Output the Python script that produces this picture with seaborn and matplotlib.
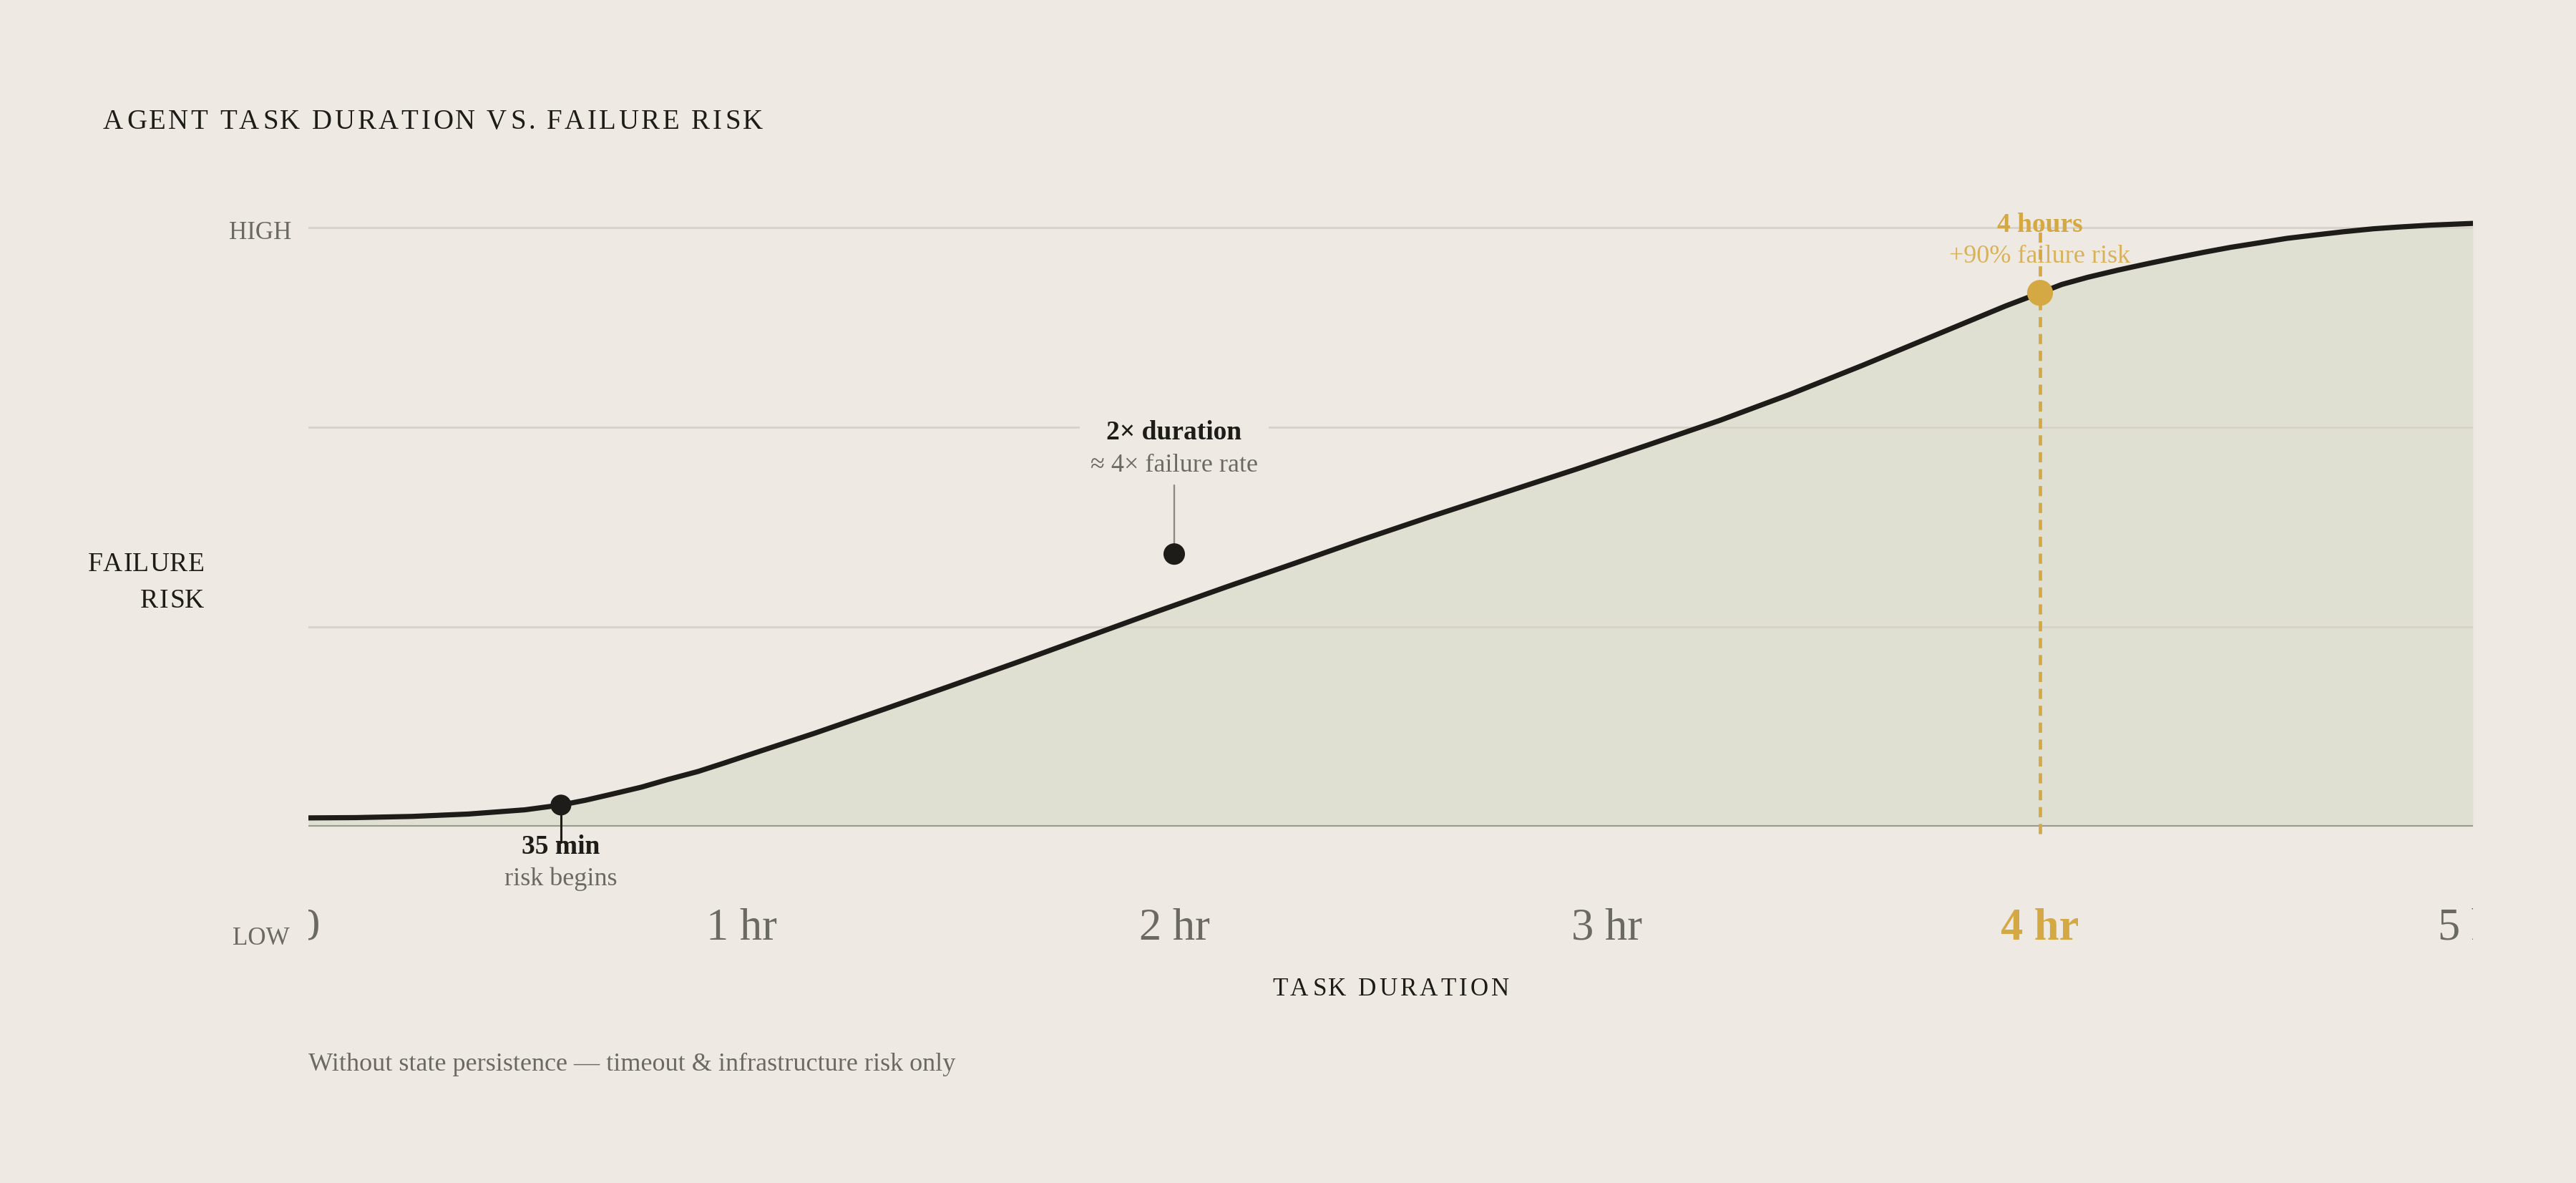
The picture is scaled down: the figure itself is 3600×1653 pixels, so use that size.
import matplotlib
matplotlib.use("Agg")
import matplotlib.pyplot as plt
import seaborn as sns
from matplotlib import font_manager
from matplotlib.ft2font import FT2Font
from matplotlib.patches import Rectangle

# curve (hours, failure risk on a 0-100 scale)
hours = [0.0, 0.11, 0.24, 0.37, 0.50, 0.583, 0.64, 0.70, 0.77, 0.83, 0.90, 0.96,
         1.01, 1.17, 1.33, 1.48, 1.64, 1.80, 1.96, 2.12, 2.28, 2.43, 2.59, 2.76,
         2.93, 3.09, 3.26, 3.42, 3.59, 3.75, 3.92, 4.0, 4.05, 4.11, 4.18, 4.25,
         4.31, 4.38, 4.44, 4.51, 4.57, 4.64, 4.70, 4.77, 4.83, 4.90, 5.0]
risk = [1.45, 1.5, 1.7, 2.1, 2.8, 3.6, 4.4, 5.4, 6.6, 7.85, 9.2, 10.6,
        11.8, 15.6, 19.6, 23.4, 27.5, 31.7, 35.9, 40.0, 44.0, 47.8, 51.7, 55.7,
        59.7, 63.6, 67.8, 72.1, 77.0, 81.8, 86.9, 89.1, 90.5, 91.7, 92.9, 94.0,
        94.9, 95.9, 96.7, 97.5, 98.2, 98.8, 99.3, 99.8, 100.1, 100.4, 100.7]

tick_hours = [0, 1, 2, 3, 4, 5]
tick_labels = ["0", "1 hr", "2 hr", "3 hr", "4 hr", "5 hr"]
grid_levels = [100 / 3, 200 / 3, 100]

onset_x, onset_y = 35 / 60, 3.6
double_x, double_y = 2.0, 45.5
peak_x, peak_y = 4.0, 89.1

BG = "#EEEAE3"
FILL = "#E0E0D2"
INK = "#1E1C18"
GREY = "#6B6963"
GOLD = "#D4A843"
GRID = "#D6D2CA"
BASE = "#9B9A92"
SERIF = ["Liberation Serif", "DejaVu Serif"]

W, H, DPI = 3600, 1653, 200

sns.set_theme(style="white", rc={"figure.facecolor": BG, "axes.facecolor": BG,
                                 "savefig.facecolor": BG})
plt.rcParams["font.family"] = SERIF

fig = plt.figure(figsize=(W / DPI, H / DPI), dpi=DPI)
ax = fig.add_axes([431 / W, 498 / H, 3025 / W, 837 * 1.1 / H])


def tracked(x, y, s, size, track, ha="left", **kw):
    # letter-spaced text: place each glyph by hand
    path = font_manager.findfont(font_manager.FontProperties(family="Liberation Serif"))
    ft = FT2Font(path, hinting_factor=1)
    ft.set_size(size * 10, 72)
    pen, glyphs = 0.0, []
    for ch in s:
        g = ft.load_char(ord(ch))
        glyphs.append((ch, pen + g.horiBearingX / 640, g.width / 640))
        pen += g.horiAdvance / 640 + track
    left = glyphs[0][1]
    right = max(p + w for c, p, w in glyphs if c != " ")
    width = right - left
    shift = {"left": 0, "center": width / 2, "right": width}[ha]
    k = DPI / 72 / W
    for ch, p, w in glyphs:
        if ch != " ":
            fig.text(x + (p - left - shift) * k, y, ch, fontsize=size,
                     ha="left", va="baseline", **kw)


ax.fill_between(hours, risk, 0, color=FILL, lw=0, zorder=1)
for g in grid_levels:
    ax.axhline(g, color=GRID, lw=1.0, zorder=2)
ax.axhline(0, color=BASE, lw=1.5, zorder=3)

ax.plot([peak_x, peak_x], [-1.2, 100.5], color=GOLD, lw=1.7, dashes=(3, 2),
        zorder=4, clip_on=False)
sns.lineplot(x=hours, y=risk, ax=ax, color=INK, lw=2.6, estimator=None,
             sort=False, zorder=5)

# markers and leaders
ax.plot([double_x, double_x], [57.0, double_y], color="#8C8A84", lw=0.85, zorder=5)
ax.plot([onset_x, onset_x], [onset_y, -2.6], color=INK, lw=1.1, zorder=5, clip_on=False)
sns.scatterplot(x=[onset_x], y=[onset_y], s=110, color=INK, edgecolor="none",
                zorder=6, ax=ax)
sns.scatterplot(x=[double_x], y=[double_y], s=117, color=INK, edgecolor="none",
                zorder=6, ax=ax)
sns.scatterplot(x=[peak_x], y=[peak_y], s=170, color=GOLD, edgecolor="none",
                zorder=6, ax=ax)

# annotations
ax.text(double_x, 64.6, "2× duration", ha="center", va="baseline", fontsize=13.5,
        fontweight="bold", color=INK, zorder=3,
        bbox=dict(boxstyle="square,pad=1.0", fc=BG, ec="none"))
ax.text(double_x, 59.3, "≈ 4× failure rate", ha="center", va="baseline",
        fontsize=13, color=GREY, zorder=3.5)
ax.text(peak_x, 99.3, "4 hours", ha="center", va="baseline", fontsize=13.5,
        fontweight="bold", color=GOLD, zorder=3.5)
ax.text(peak_x, 94.1, "+90% failure risk", ha="center", va="baseline",
        fontsize=13, color=GOLD, alpha=0.85, zorder=3.5)
ax.text(onset_x, -4.5, "35 min", ha="center", va="baseline", fontsize=13.5,
        fontweight="bold", color=INK, clip_on=False)
ax.text(onset_x, -9.75, "risk begins", ha="center", va="baseline", fontsize=13,
        color=GREY, clip_on=False)

ax.set_xlim(0, 5)
ax.set_ylim(0, 110)
ax.set_xticks(tick_hours, tick_labels)
ax.set_yticks([])
ax.set_xlabel("")
ax.set_ylabel("")
ax.tick_params(axis="x", length=0, pad=41, labelsize=22.5, labelcolor=GREY)
sns.despine(ax=ax, left=True, bottom=True)

clip = Rectangle((431 / W, 0), 3025 / W, 1, transform=fig.transFigure)
labels = ax.get_xticklabels()
for lab in labels:
    lab.set_clip_path(clip)
labels[4].set_color(GOLD)
labels[4].set_fontweight("bold")

# figure texts
tracked(144 / W, 1 - 180 / H, "AGENT TASK DURATION VS. FAILURE RISK", 14, 1.25, color=INK)
tracked(283 / W, 1 - 797.7 / H, "FAILURE", 13.5, 0.3, ha="right", color=INK)
tracked(283 / W, 1 - 849.3 / H, "RISK", 13.5, 0.3, ha="right", color=INK)
tracked(1942.5 / W, 1 - 1391 / H, "TASK DURATION", 12.6, 1.4, ha="center", color=INK)

fig.text(407 / W, 1 - 334 / H, "HIGH", ha="right", va="baseline", fontsize=12.6, color=GREY)
fig.text(405 / W, 1 - 1320 / H, "LOW", ha="right", va="baseline", fontsize=12.6, color=GREY)
fig.text(431 / W, 1 - 1496 / H, "Without state persistence — timeout & infrastructure risk only",
         ha="left", va="baseline", fontsize=13.0, color=GREY)

fig.savefig("out.png", dpi=DPI)
